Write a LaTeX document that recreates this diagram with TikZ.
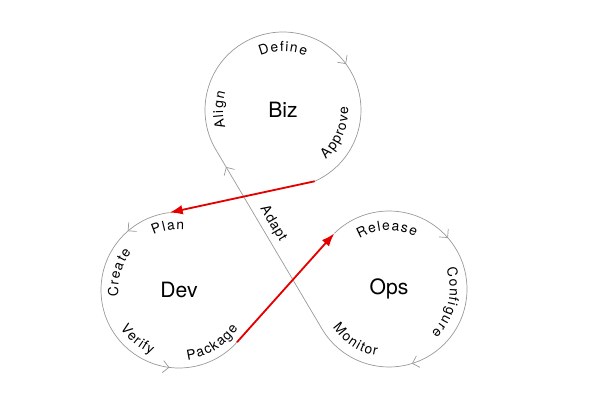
\documentclass[tikz,border=0pt]{standalone}
\usepackage{fontspec}
\setmainfont{TeX Gyre Heros}
\newfontfamily\trackfamily{TeX Gyre Heros}[LetterSpace=6]
\usetikzlibrary{arrows.meta,calc,decorations.markings,decorations.text}
\newcommand{\tagfont}{\fontsize{9.8}{11}\selectfont}
\newcommand{\hubfont}{\fontsize{15}{16}\selectfont}

\begin{document}
\begin{tikzpicture}[
  hub/.style={font=\hubfont, inner sep=0pt},
  loopline/.style={draw=black!40, line width=0.5pt},
  flowtip/.style={postaction={decorate, decoration={markings,
      mark=at position #1 with {\arrow{Straight Barb[length=1.5mm,width=3mm]}}}}},
  arctag/.style={decorate, decoration={text effects along path, text align=center,
      text={#1}, text effects/.cd, text along path,
      characters={font=\tagfont, inner xsep=0.45pt, anchor=base},
      character widths={font=\tagfont, inner xsep=0.45pt}}},
  handoff/.style={-{Latex[length=3.3mm,width=2.4mm]}, line width=1.3pt, draw=red!90!black},
]
\useasboundingbox (0,0) rectangle (15.075,10.35);

%====================== HUBS ======================
\node[hub] (biz) at (7.075,7.6)   {Biz};
\node[hub] (dev) at (4.475,3.1)   {Dev};
\node[hub] (ops) at (9.725,3.125) {Ops};

\coordinate (bizin)  at ($(biz)+(210:1.95)$);
\coordinate (bizout) at ($(biz)+(-66:1.95)$);
\coordinate (devin)  at ($(dev)+(97:1.95)$);
\coordinate (devout) at ($(dev)+(-42:1.95)$);
\coordinate (opsin)  at ($(ops)+(134.5:1.95)$);
\coordinate (opsout) at ($(ops)+(210:1.95)$);

%====================== LOOPS ======================
\draw[loopline, flowtip=0.63] (bizin) arc (210:-66:1.95);
\draw[loopline, flowtip=0.154, flowtip=0.751] (devin) arc (97:318:1.95);
\draw[loopline, flowtip=0.329, flowtip=0.729] (opsin) arc (134.5:-150:1.95);
\draw[loopline, flowtip=0.9] (opsout) -- node[sloped, above, pos=0.55, font=\trackfamily\tagfont] (adapt) {Adapt} (bizin);

%====================== STAGE LABELS ======================
\path[arctag=Define]    ($(biz)+(140:1.46)$) arc (140:40:1.46);
\path[arctag=Align]     ($(biz)+(230:1.5)$)  arc (230:130:1.5);
\path[arctag=Approve]   ($(biz)+(-73:1.63)$) arc (-73:27:1.63);
\path[arctag=Plan]      ($(dev)+(150:1.52)$) arc (150:50:1.52);
\path[arctag=Create]    ($(dev)+(214:1.52)$) arc (214:114:1.52);
\path[arctag=Verify]    ($(dev)+(180:1.75)$) arc (180:280:1.75);
\path[arctag=Package]   ($(dev)+(252:1.76)$) arc (252:352:1.76);
\path[arctag=Release]   ($(ops)+(142:1.46)$) arc (142:42:1.46);
\path[arctag=Configure] ($(ops)+(37:1.52)$)  arc (37:-63:1.52);
\path[arctag=Monitor]   ($(ops)+(187:1.7)$)  arc (187:287:1.7);

%====================== HAND-OFFS ======================
\draw[handoff] (bizout) -- (devin);
\draw[handoff] (devout) -- (opsin);
\end{tikzpicture}
\end{document}
